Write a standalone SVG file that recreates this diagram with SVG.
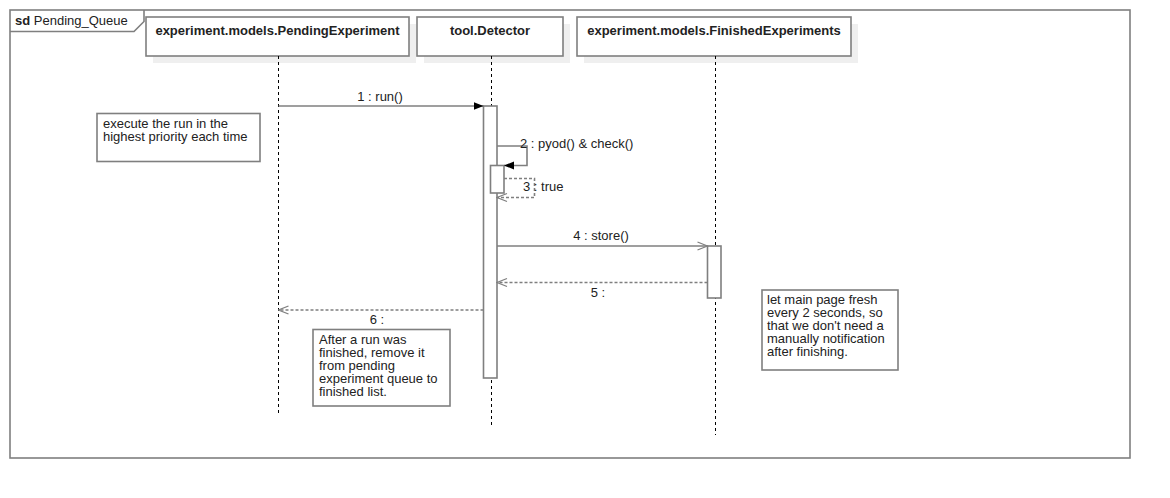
<svg xmlns="http://www.w3.org/2000/svg" width="1170" height="498" viewBox="0 0 1170 498">
<style>
text{font-family:"Liberation Sans",Arial,sans-serif;font-size:13px;fill:#222}
.hd{font-weight:bold;text-anchor:middle}
.box{fill:#fff;stroke:#7f7f7f;stroke-width:1.6}
.sh{fill:#efefef}
.life{stroke:#000;stroke-width:1;stroke-dasharray:3,3;fill:none}
.msg{stroke:#7f7f7f;stroke-width:1.6;fill:none}
.ret{stroke:#7f7f7f;stroke-width:1.6;fill:none;stroke-dasharray:3,2}
.act{fill:#fff;stroke:#7f7f7f;stroke-width:1.6}
.mid{text-anchor:middle}
</style>
<defs>
<marker id="fill" viewBox="0 0 10 10" refX="10" refY="5" markerWidth="10" markerHeight="10" markerUnits="userSpaceOnUse" orient="auto"><path d="M0,1 L10,5 L0,9 Z" fill="#000"/></marker>
<marker id="open" viewBox="0 0 12 12" refX="11" refY="6" markerWidth="12" markerHeight="12" markerUnits="userSpaceOnUse" orient="auto"><path d="M1,2 L11,6 L1,10" fill="none" stroke="#7f7f7f" stroke-width="1.3"/></marker>
</defs>
<rect width="1170" height="498" fill="#fff"/>
<g id="frame">
<rect x="10" y="10" width="1120" height="448" fill="none" stroke="#7f7f7f" stroke-width="1.6"/>
<path d="M10,31.5 L134,31.5 L144,21.5 L144,10" fill="none" stroke="#7f7f7f" stroke-width="1.6"/>
<text x="15" y="25"><tspan font-weight="bold">sd</tspan> Pending_Queue</text>
</g>
<g id="lifeline-pending">
<rect class="sh" x="153" y="24" width="263" height="39"/>
<rect class="box" x="146" y="17" width="263" height="39"/>
<text class="hd" x="277.5" y="35">experiment.models.PendingExperiment</text>
<line class="life" x1="278.5" y1="56" x2="278.5" y2="415"/>
</g>
<g id="lifeline-detector">
<rect class="sh" x="424" y="24" width="146" height="39"/>
<rect class="box" x="417" y="17" width="146" height="39"/>
<text class="hd" x="490" y="35">tool.Detector</text>
<line class="life" x1="491.5" y1="56" x2="491.5" y2="428"/>
<rect class="act" x="483.5" y="106" width="13.5" height="272"/>
<rect class="act" x="490.5" y="165.5" width="13.5" height="27.5"/>
</g>
<g id="lifeline-finished">
<rect class="sh" x="584" y="24" width="274" height="39"/>
<rect class="box" x="577" y="17" width="274" height="39"/>
<text class="hd" x="714" y="35">experiment.models.FinishedExperiments</text>
<line class="life" x1="715.5" y1="56" x2="715.5" y2="435"/>
<rect class="act" x="707.5" y="246" width="13.5" height="52"/>
</g>
<g id="connectors">
<line class="msg" x1="278.5" y1="106" x2="483.5" y2="106" marker-end="url(#fill)"/>
<text class="mid" x="380" y="101">1 : run()</text>
<polyline class="msg" points="497,146 527,146 527,165.5 504,165.5" marker-end="url(#fill)"/>
<text x="520" y="148">2 : pyod() &amp; check()</text>
<polyline class="ret" points="504,178.5 534.5,178.5 534.5,197.5 497,197.5" marker-end="url(#open)"/>
<text x="523" y="191">3 : true</text>
<line class="msg" x1="497" y1="246" x2="707.5" y2="246" marker-end="url(#open)"/>
<text class="mid" x="601" y="240">4 : store()</text>
<line class="ret" x1="707.5" y1="282.5" x2="497" y2="282.5" marker-end="url(#open)"/>
<text class="mid" x="598" y="297">5 :</text>
<line class="ret" x1="483.5" y1="310" x2="278.5" y2="310" marker-end="url(#open)"/>
<text class="mid" x="377" y="324">6 :</text>
</g>
<g id="note-priority">
<rect class="box" x="97" y="113.5" width="163" height="48"/>
<text x="103" y="128">execute the run in the</text>
<text x="103" y="141">highest priority each time</text>
</g>
<g id="note-finished">
<rect class="box" x="313" y="329.5" width="137" height="76.5"/>
<text x="319" y="344">After a run was</text>
<text x="319" y="357">finished, remove it</text>
<text x="319" y="370">from pending</text>
<text x="319" y="383">experiment queue to</text>
<text x="319" y="396">finished list.</text>
</g>
<g id="note-refresh">
<rect class="box" x="762" y="290" width="136" height="80"/>
<text x="767" y="304">let main page fresh</text>
<text x="767" y="317">every 2 seconds, so</text>
<text x="767" y="330">that we don't need a</text>
<text x="767" y="343">manually notification</text>
<text x="767" y="356">after finishing.</text>
</g>
</svg>
